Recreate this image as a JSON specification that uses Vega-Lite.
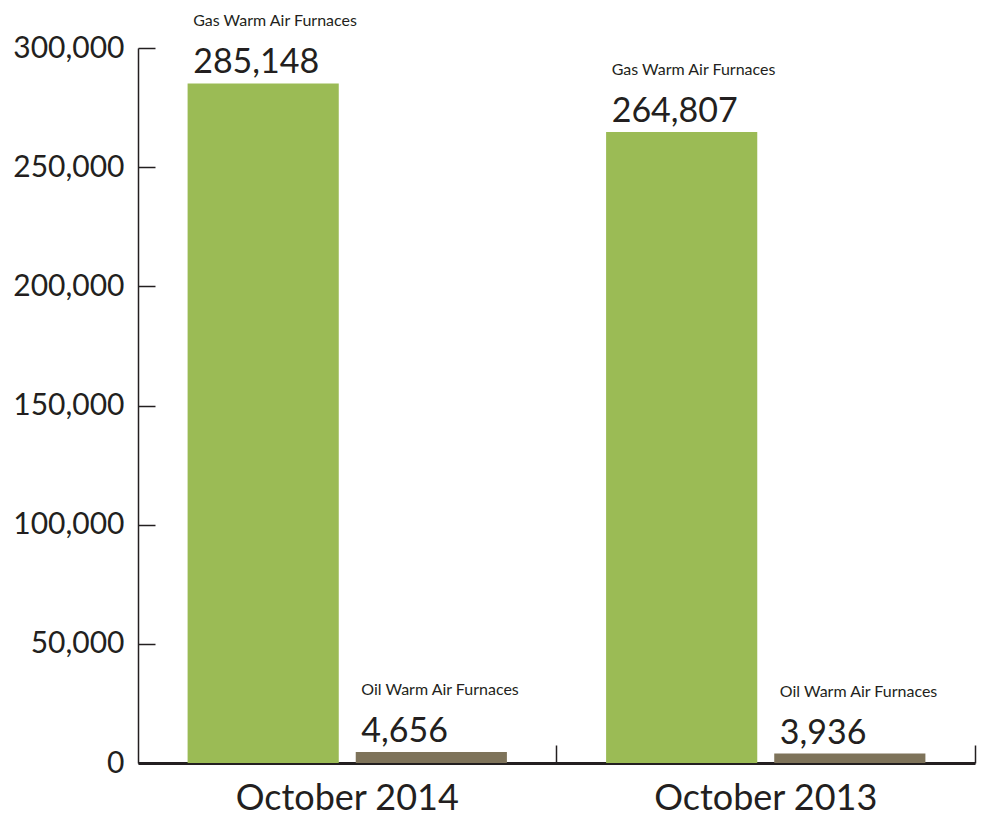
{
  "$schema": "https://vega.github.io/schema/vega-lite/v6.json",
  "width": 837,
  "height": 715,
  "autosize": {"type": "none"},
  "padding": {"left": 138, "top": 48, "right": 10, "bottom": 53},
  "background": "white",
  "config": {
    "view": {"stroke": null},
    "font": "Lato",
    "axis": {"grid": false, "titleFont": "Lato", "labelFont": "Lato", "labelColor": "#231f20", "domainColor": "#231f20", "tickColor": "#231f20"}
  },
  "data": {
    "values": [
      {"period": "October 2014", "type": "Gas Warm Air Furnaces", "value": 285148},
      {"period": "October 2014", "type": "Oil Warm Air Furnaces", "value": 4656},
      {"period": "October 2013", "type": "Gas Warm Air Furnaces", "value": 264807},
      {"period": "October 2013", "type": "Oil Warm Air Furnaces", "value": 3936}
    ]
  },
  "encoding": {
    "x": {
      "field": "period", "type": "nominal", "sort": null,
      "scale": {"paddingInner": 0, "paddingOuter": 0},
      "axis": {"title": null, "labelAngle": 0, "labelFontSize": 36, "labelPadding": 36, "labelLimit": 0, "domainWidth": 3, "tickWidth": 1.5, "tickSize": -18, "bandPosition": 1}
    },
    "xOffset": {
      "field": "type", "type": "nominal",
      "scale": {"paddingInner": 0.101, "paddingOuter": 0.295}
    },
    "y": {
      "field": "value", "type": "quantitative",
      "scale": {"domain": [0, 300000], "nice": false},
      "axis": {"title": null, "values": [0, 50000, 100000, 150000, 200000, 250000, 300000], "format": ",.0f", "labelFontSize": 30, "labelPadding": 31, "labelLimit": 0, "tickSize": -17, "tickWidth": 1.5, "domainWidth": 1.5}
    }
  },
  "layer": [
    {
      "mark": {"type": "bar"},
      "encoding": {
        "color": {
          "field": "type", "type": "nominal",
          "scale": {"domain": ["Gas Warm Air Furnaces", "Oil Warm Air Furnaces"], "range": ["#9bbb55", "#7e735a"]},
          "legend": null
        }
      }
    },
    {
      "mark": {"type": "text", "align": "left", "baseline": "alphabetic", "dx": -70, "dy": -10, "fontSize": 34, "color": "#231f20"},
      "encoding": {"text": {"field": "value", "type": "quantitative", "format": ","}}
    },
    {
      "mark": {"type": "text", "align": "left", "baseline": "alphabetic", "dx": -70, "dy": -57, "fontSize": 16, "color": "#231f20"},
      "encoding": {"text": {"field": "type", "type": "nominal"}}
    }
  ]
}
